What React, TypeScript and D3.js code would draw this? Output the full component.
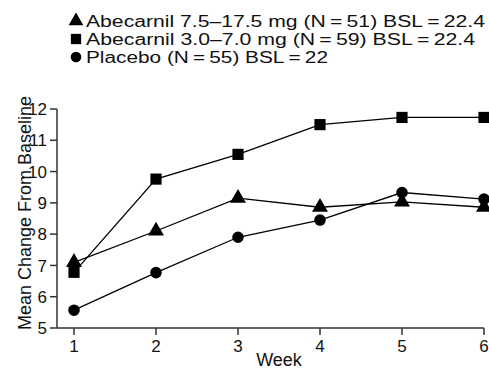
import React, { useRef, useEffect } from 'react';
import * as d3 from 'd3';

const weeks = [1, 2, 3, 4, 5, 6];
const highDose = [7.1, 8.1, 9.15, 8.86, 9.03, 8.86];
const lowDose = [6.78, 9.76, 10.55, 11.5, 11.73, 11.73];
const placebo = [5.57, 6.77, 7.9, 8.45, 9.33, 9.12];
const yTicks = [5, 6, 7, 8, 9, 10, 11, 12];

const legendLabels = [
  'Abecarnil 7.5\u201317.5 mg (N\u2009=\u200951) BSL\u2009=\u200922.4',
  'Abecarnil 3.0\u20137.0 mg (N\u2009=\u200959) BSL\u2009=\u200922.4',
  'Placebo (N\u2009=\u200955) BSL\u2009=\u200922',
];
const legendWidths = [399, 389, 242];

const App = () => {
  const ref = useRef<SVGSVGElement>(null);

  useEffect(() => {
    const svg = d3.select(ref.current);
    svg.selectAll('*').remove();
    const font = 'Liberation Sans, Arial, sans-serif';

    const x = d3.scaleLinear().domain([1, 6]).range([74, 484]);
    const y = d3.scaleLinear().domain([5, 12]).range([328, 109]);

    // axes
    const g = svg.append('g').attr('font-family', font);
    g.append('line').attr('x1', 57).attr('x2', 484).attr('y1', y(5)).attr('y2', y(5))
      .attr('stroke', '#333').attr('stroke-width', 1.5);
    g.append('line').attr('x1', 57).attr('x2', 57).attr('y1', y(5)).attr('y2', y(12))
      .attr('stroke', '#333').attr('stroke-width', 1.5);

    yTicks.forEach(t => {
      g.append('line').attr('x1', 50).attr('x2', 57).attr('y1', y(t)).attr('y2', y(t))
        .attr('stroke', '#333').attr('stroke-width', 1.5);
      g.append('text').attr('x', 47).attr('y', y(t)).attr('dy', '0.36em')
        .attr('text-anchor', 'end').attr('font-size', 17).attr('fill', '#111').text(t);
    });
    weeks.forEach(w => {
      g.append('line').attr('x1', x(w)).attr('x2', x(w)).attr('y1', y(5)).attr('y2', y(5) + 7)
        .attr('stroke', '#333').attr('stroke-width', 1.5);
      g.append('text').attr('x', x(w)).attr('y', y(5) + 24)
        .attr('text-anchor', 'middle').attr('font-size', 17).attr('fill', '#111').text(w);
    });

    g.append('text').attr('x', 279).attr('y', 366).attr('text-anchor', 'middle')
      .attr('font-size', 18).attr('fill', '#111').text('Week');
    g.append('text').attr('transform', 'translate(31,213) rotate(-90)')
      .attr('text-anchor', 'middle').attr('font-size', 18).attr('fill', '#111')
      .text('Mean Change From Baseline');

    const series = [
      { values: highDose, symbol: d3.symbolTriangle, size: 110 },
      { values: lowDose, symbol: d3.symbolSquare, size: 125 },
      { values: placebo, symbol: d3.symbolCircle, size: 105 },
    ];

    const line = d3.line<number>().x((_, i) => x(weeks[i])).y(d => y(d));
    series.forEach(s => {
      svg.append('path').attr('d', line(s.values)).attr('fill', 'none')
        .attr('stroke', '#000').attr('stroke-width', 1.3);
    });
    series.forEach(s => {
      s.values.forEach((v, i) => {
        svg.append('path').attr('d', d3.symbol().type(s.symbol).size(s.size)())
          .attr('transform', `translate(${x(weeks[i])},${y(v)})`).attr('fill', '#000');
      });
    });

    // legend
    const rowY = [21, 39, 57];
    series.forEach((s, i) => {
      svg.append('path').attr('d', d3.symbol().type(s.symbol).size(s.size * 0.85)())
        .attr('transform', `translate(76,${rowY[i]})`).attr('fill', '#000');
      svg.append('text').attr('x', 86).attr('y', rowY[i]).attr('dy', '0.36em')
        .attr('font-family', font).attr('font-size', 16).attr('fill', '#111')
        .attr('textLength', legendWidths[i]).attr('lengthAdjust', 'spacingAndGlyphs')
        .text(legendLabels[i]);
    });
  }, []);

  return (
    <svg ref={ref} width={489} height={369}
      style={{ position: 'absolute', left: 0, top: 0, background: '#fff' }} />
  );
};

export default App;
